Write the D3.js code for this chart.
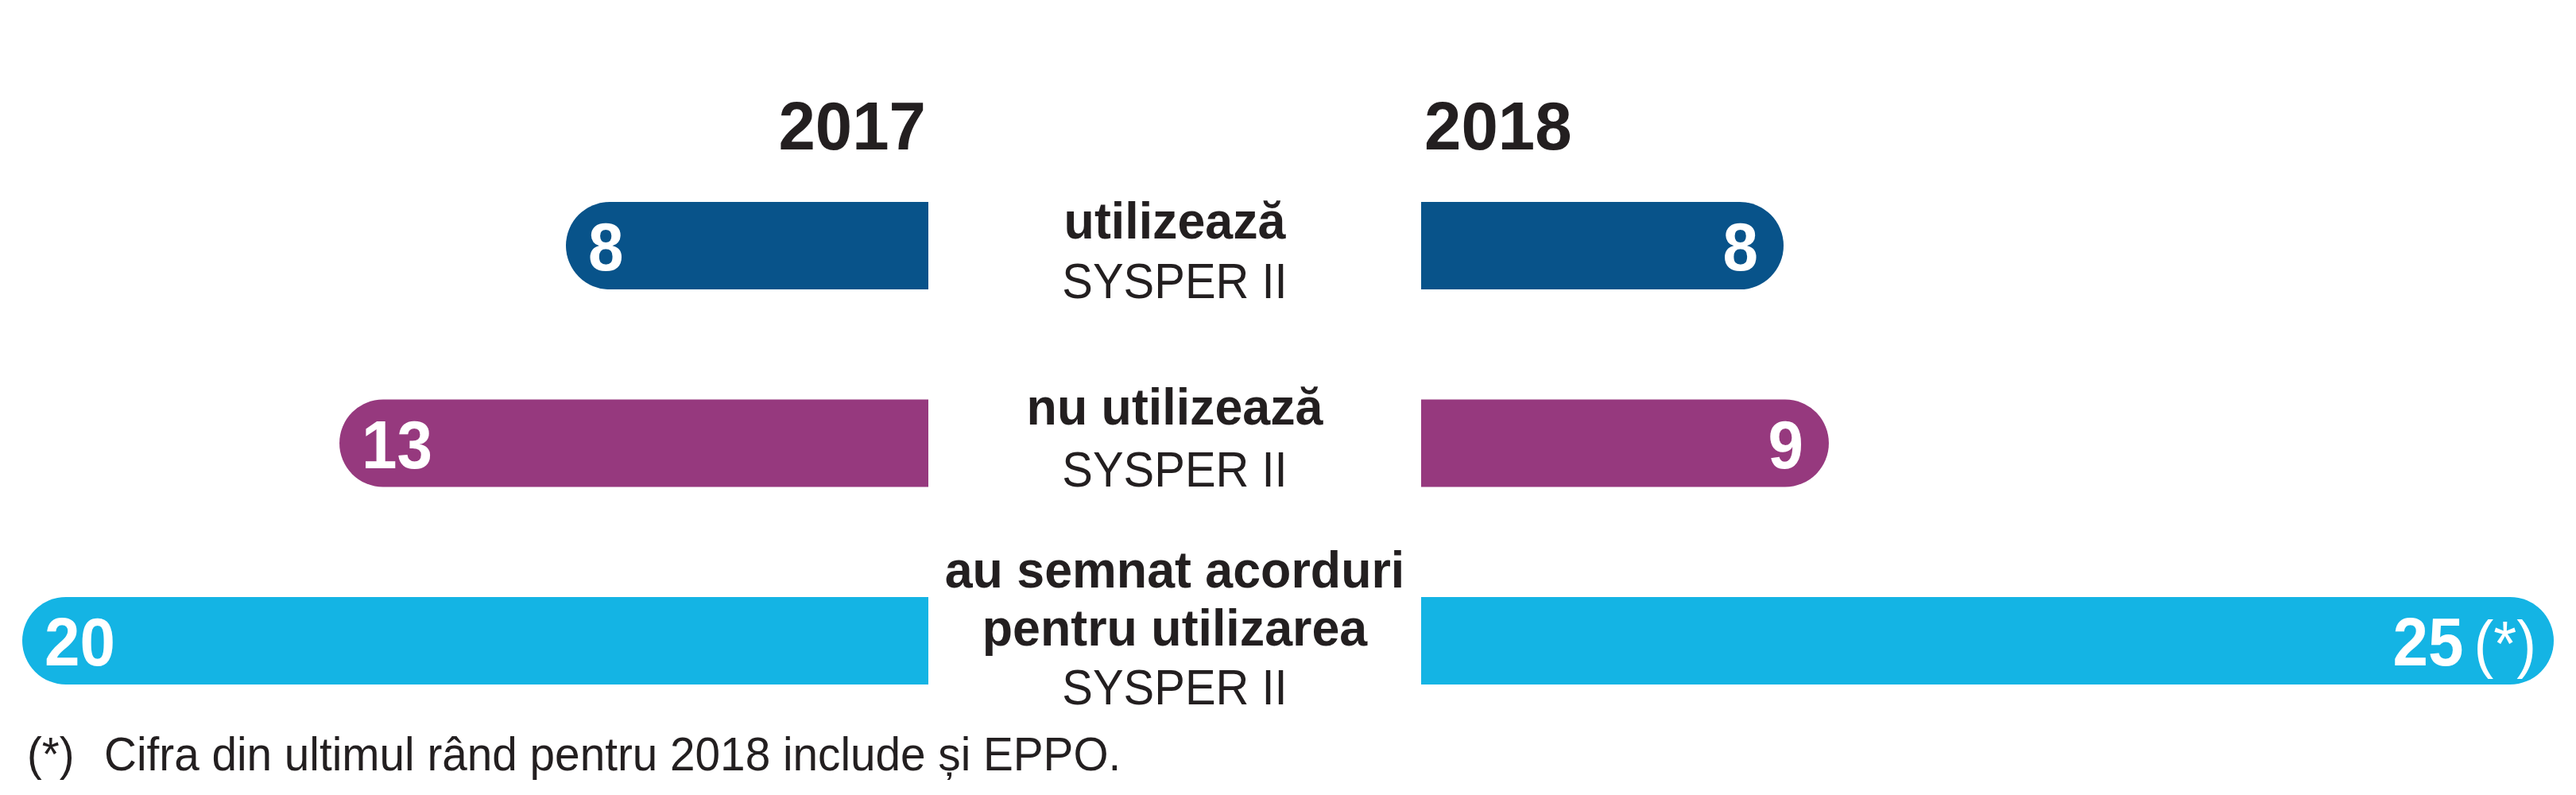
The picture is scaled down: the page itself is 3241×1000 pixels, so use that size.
<!DOCTYPE html>
<html><head><meta charset="utf-8">
<script src="https://cdn.jsdelivr.net/npm/d3@7"></script>
<style>body{margin:0;background:#fff}</style>
</head><body>
<svg id="c" width="3241" height="1000"></svg>
<script>
// ---- data ----
const categories = ["utilizează SYSPER II", "nu utilizează SYSPER II", "au semnat acorduri pentru utilizarea SYSPER II"];
const labelBold = [["utilizează"], ["nu utilizează"], ["au semnat acorduri", "pentru utilizarea"]];
const labelRegular = ["SYSPER II", "SYSPER II", "SYSPER II"];
const years = ["2017", "2018"];
const values2017 = [8, 13, 20];
const values2018 = [8, 9, 25];
const notes2018 = ["", "", "(*)"];
const colors = ["#08538A", "#96397E", "#14B4E4"];
const footnoteMark = "(*)";
const footnoteText = "Cifra din ultimul rând pentru 2018 include și EPPO.";

// ---- layout ----
const svg = d3.select("#c");
const FONT = "'Liberation Sans', Arial, Helvetica, sans-serif";
const INK = "#231F20";
const gapL = 1168, gapR = 1788, cx = (gapL + gapR) / 2;
const pxPerUnit = 57;
const xR = d3.scaleLinear().domain([0, 25]).range([gapR, gapR + 25 * pxPerUnit]);
const xL = d3.scaleLinear().domain([0, 25]).range([gapL, gapL - 25 * pxPerUnit]);
const y = d3.scaleBand().domain(categories).range([254, 861]).paddingInner(0.557).paddingOuter(0);
const bw = y.bandwidth(), r = bw / 2;
// baseline offsets of label lines relative to band centre
const labelOffsets = [[-9, 66], [-23.5, 54.5], [-67, 6, 80]];

function txt(g, x, yy, s, opts) {
  return g.append("text")
    .attr("transform", `translate(${x},${yy}) scale(${opts.sx || 1},1)`)
    .attr("text-anchor", opts.anchor || "start")
    .attr("font-family", FONT)
    .attr("font-weight", opts.bold ? 700 : 400)
    .attr("font-size", opts.size)
    .attr("fill", opts.fill || INK)
    .text(s);
}

// headers
txt(svg, gapL - 3, 188, years[0], {anchor: "end", bold: true, size: 86, sx: 0.97});
txt(svg, gapR + 4, 188, years[1], {anchor: "start", bold: true, size: 86, sx: 0.97});

categories.forEach((c, i) => {
  const top = y(c), bot = top + bw, mid = top + r;
  // left bar (2017)
  const a = xL(values2017[i]);
  svg.append("path")
    .attr("d", `M${gapL},${top} H${a + r} A${r},${r} 0 0 0 ${a + r},${bot} H${gapL} Z`)
    .attr("fill", colors[i]);
  // right bar (2018)
  const b = xR(values2018[i]);
  svg.append("path")
    .attr("d", `M${gapR},${top} H${b - r} A${r},${r} 0 0 1 ${b - r},${bot} H${gapR} Z`)
    .attr("fill", colors[i]);

  // value labels
  txt(svg, a + 28, mid + 31, String(values2017[i]), {bold: true, size: 86, sx: 0.93, fill: "#fff"});
  const t = svg.append("text")
    .attr("transform", `translate(${b - (notes2018[i] ? 22 : 32)},${mid + 31}) scale(0.93,1)`)
    .attr("text-anchor", "end")
    .attr("font-family", FONT)
    .attr("fill", "#fff");
  t.append("tspan").attr("font-weight", 700).attr("font-size", 86).text(String(values2018[i]));
  if (notes2018[i]) {
    t.append("tspan").attr("font-weight", 300).attr("font-size", 80).attr("dx", 14).text(notes2018[i]);
  }

  // centre labels
  const lines = labelBold[i];
  lines.forEach((ln, k) => {
    txt(svg, cx, mid + labelOffsets[i][k], ln, {anchor: "middle", bold: true, size: 64, sx: 0.98});
  });
  txt(svg, cx, mid + labelOffsets[i][lines.length], labelRegular[i], {anchor: "middle", size: 63, sx: 0.92});
});

// footnote
txt(svg, 34, 969, footnoteMark, {size: 60, sx: 0.94});
txt(svg, 131, 969, footnoteText, {size: 60, sx: 0.945});
</script>
</body></html>
